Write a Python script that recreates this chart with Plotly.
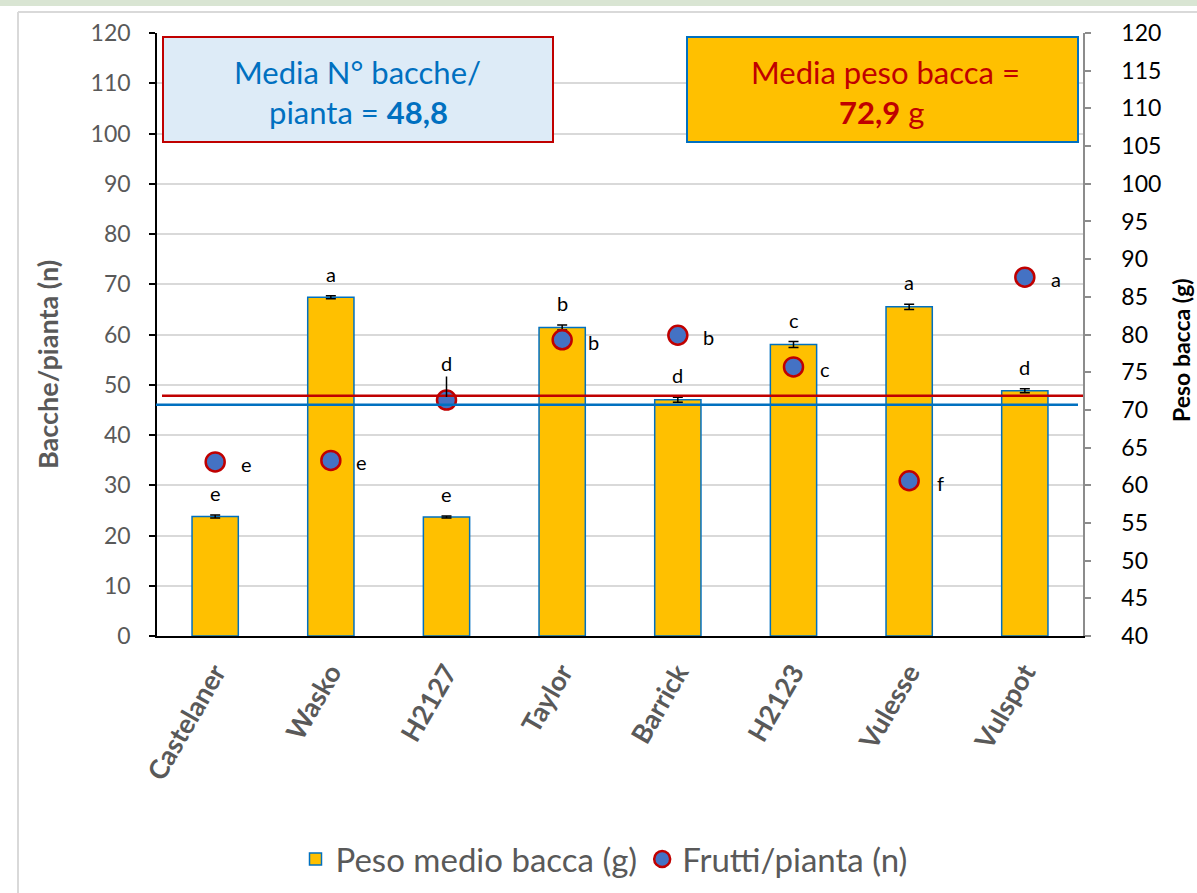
import plotly.graph_objects as go

categories = ["Castelaner", "Wasko", "H2127", "Taylor", "Barrick", "H2123", "Vulesse", "Vulspot"]
bar_values = [23.8, 67.4, 23.7, 61.4, 47.0, 58.0, 65.5, 48.8]
bar_errors = [0.3, 0.3, 0.2, 0.5, 0.5, 0.6, 0.5, 0.4]
bar_letters = ["e", "a", "e", "b", "d", "c", "a", "d"]
dot_values = [63.1, 63.3, 71.3, 79.3, 79.9, 75.7, 60.6, 87.6]
dot_letters = ["e", "e", "d", "b", "b", "c", "f", "a"]
red_line_left = 47.8
blue_line_left = 46.0

FONT = "Lato, Noto Sans, sans-serif"
GRAY = "#595959"

# plot area in page pixels: x 157..1083, y 33..636
def px(x):
    return (x - 157) / 926

def py(y):
    return (636 - y) / 603

fig = go.Figure()
fig.add_trace(go.Bar(
    x=categories, y=bar_values, name="Peso medio bacca (g)",
    marker=dict(color="#FFC000", line=dict(color="#0070C0", width=1.5)),
    error_y=dict(type="data", array=bar_errors, color="black", thickness=1.5, width=5),
    yaxis="y",
))
fig.add_trace(go.Scatter(
    x=categories, y=dot_values, name="Frutti/pianta (n)", mode="markers",
    marker=dict(size=19, color="#4472C4", line=dict(color="#C00000", width=2.5)),
    yaxis="y2",
))

LET = dict(family=FONT, size=20, color="black")
ann = []
for c, v, e, t in zip(categories, bar_values, bar_errors, bar_letters):
    ann.append(dict(x=c, y=v + e, xref="x", yref="y", text=t, showarrow=False,
                    yshift=22, font=LET))
for c, v, t in zip(categories, dot_values, dot_letters):
    if c == "H2127":
        ann.append(dict(x=c, y=v, xref="x", yref="y2", text=t, showarrow=True,
                        arrowhead=0, arrowwidth=1.5, arrowcolor="black", ax=0, ay=-37,
                        standoff=3, font=LET))
    else:
        ann.append(dict(x=c, y=v, xref="x", yref="y2", text=t, showarrow=False,
                        xshift=31, yshift=-2, font=LET))

BOX = dict(size=31, family=FONT)
ann += [
    dict(x=px(357), y=py(72), xref="paper", yref="paper", text="Media N° bacche/",
         xanchor="center", yanchor="middle", showarrow=False, font=dict(color="#0070C0", **BOX)),
    dict(x=px(358), y=py(112), xref="paper", yref="paper", text="pianta = <b>48,8</b>",
         xanchor="center", yanchor="middle", showarrow=False, font=dict(color="#0070C0", **BOX)),
    dict(x=px(885), y=py(72), xref="paper", yref="paper", text="Media peso bacca =",
         xanchor="center", yanchor="middle", showarrow=False, font=dict(color="#C00000", **BOX)),
    dict(x=px(881), y=py(112), xref="paper", yref="paper", text="<b>72,9</b> g",
         xanchor="center", yanchor="middle", showarrow=False, font=dict(color="#C00000", **BOX)),
    dict(x=px(48), y=py(365), xref="paper", yref="paper", text="<b>Bacche/pianta (n)</b>",
         xanchor="center", yanchor="middle", textangle=-90, showarrow=False,
         font=dict(family=FONT, size=27, color=GRAY)),
    dict(x=px(1181), y=py(350), xref="paper", yref="paper", text="<b>Peso bacca (g)</b>",
         xanchor="center", yanchor="middle", textangle=-90, showarrow=False,
         font=dict(family=FONT, size=23, color="black")),
]

shapes = [
    dict(type="rect", xref="paper", yref="paper", x0=px(-10), x1=px(1210), y0=py(6), y1=py(-5),
         fillcolor="#D9E5D3", line=dict(width=0), layer="below"),
    dict(type="line", xref="paper", yref="paper", x0=px(18), x1=px(18), y0=py(12), y1=py(900),
         line=dict(color="#D9D9D9", width=2)),
    dict(type="line", xref="paper", yref="paper", x0=px(18), x1=px(1210), y0=py(12), y1=py(12),
         line=dict(color="#D9D9D9", width=2)),
    dict(type="line", xref="paper", yref="y", x0=px(162), x1=px(1083), y0=red_line_left, y1=red_line_left,
         line=dict(color="#C00000", width=2.5)),
    dict(type="line", xref="paper", yref="y", x0=px(156), x1=px(1078), y0=blue_line_left, y1=blue_line_left,
         line=dict(color="#0070C0", width=2.5)),
    dict(type="rect", xref="paper", yref="paper", x0=px(163), x1=px(553), y0=py(142), y1=py(37),
         fillcolor="#DDEBF7", line=dict(color="#C00000", width=2)),
    dict(type="rect", xref="paper", yref="paper", x0=px(687), x1=px(1078), y0=py(142), y1=py(37),
         fillcolor="#FFC000", line=dict(color="#0070C0", width=2)),
]

fig.update_layout(
    width=1197, height=893,
    margin=dict(l=157, r=114, t=33, b=257, autoexpand=False),
    paper_bgcolor="white", plot_bgcolor="white",
    bargap=0.6,
    showlegend=True,
    legend=dict(orientation="h", x=px(604), xanchor="center", y=py(859), yanchor="middle",
                font=dict(family=FONT, size=33, color=GRAY)),
    xaxis=dict(showline=True, linecolor="black", linewidth=2, ticks="", automargin=False,
               tickangle=-60, tickfont=dict(family=FONT, size=27, color=GRAY, weight="bold"),
               ticklabelstandoff=8, showgrid=False),
    yaxis=dict(range=[0, 120], dtick=10, showline=True, linecolor="black", linewidth=1.5,
               ticks="outside", ticklen=6, tickcolor="black", tickwidth=1.5, ticklabelstandoff=14,
               showgrid=True, gridcolor="#D9D9D9", gridwidth=1.5, zeroline=False, automargin=False,
               tickfont=dict(family=FONT, size=23, color=GRAY)),
    yaxis2=dict(range=[40, 120], dtick=5, overlaying="y", side="right", showline=True,
                linecolor="#8C8C8C", linewidth=1.5, ticks="outside", ticklen=6, tickcolor="#8C8C8C",
                tickwidth=1.5, showgrid=False, zeroline=False, ticklabelstandoff=26, automargin=False,
                tickfont=dict(family=FONT, size=23, color="black")),
    annotations=ann,
    shapes=shapes,
)

fig.write_html("out.html", config={"displayModeBar": False},
               post_script="document.body.style.margin='0';document.body.style.overflow='hidden';")
